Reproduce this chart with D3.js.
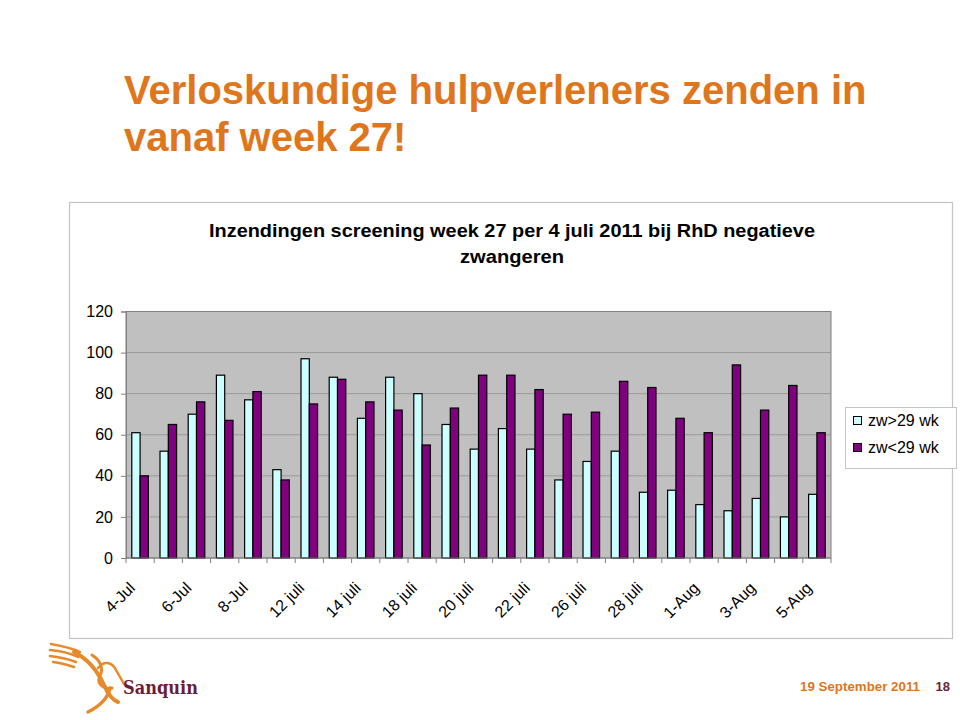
<!DOCTYPE html>
<html>
<head>
<meta charset="utf-8">
<script src="https://cdn.jsdelivr.net/npm/d3@7"></script>
<style>
  html, body { margin: 0; padding: 0; background: #ffffff; }
  svg { display: block; }
</style>
</head>
<body>
<svg id="chart" width="960" height="720"></svg>
<script>
const slideTitle = ["Verloskundige hulpverleners zenden in", "vanaf week 27!"];
const chartTitle = ["Inzendingen screening week 27 per 4 juli 2011 bij RhD negatieve", "zwangeren"];
const categories = ["4-Jul","5-Jul","6-Jul","7-Jul","8-Jul","11 juli","12 juli","13 juli","14 juli","15 juli",
  "18 juli","19 juli","20 juli","21 juli","22 juli","25 juli","26 juli","27 juli","28 juli","29 juli",
  "1-Aug","2-Aug","3-Aug","4-Aug","5-Aug"];
const seriesNames = ["zw>29 wk", "zw<29 wk"];
const zwGt29 = [61,52,70,89,77,43,97,88,68,88,80,65,53,63,53,38,47,52,32,33,26,23,29,20,31];
const zwLt29 = [40,65,76,67,81,38,75,87,76,72,55,73,89,89,82,70,71,86,83,68,61,94,72,84,61];
const yTicks = [0,20,40,60,80,100,120];
const footerDate = "19 September 2011";
const footerPage = "18";

(function(){
const seriesValues = [zwGt29, zwLt29];
const seriesColors = ["#CCFFFF", "#800080"];

const svg = d3.select("#chart");
const orange = "#E0761C";

// slide title
svg.append("g").selectAll("text").data(slideTitle).join("text")
  .attr("x", 124).attr("y", (d,i) => 104 + i*47)
  .attr("font-family", "Liberation Sans, Arial, sans-serif")
  .attr("font-weight", "bold").attr("font-size", 40)
  .attr("fill", orange).text(d => d);

// chart frame
svg.append("rect").attr("x", 69.5).attr("y", 202.5).attr("width", 883).attr("height", 436)
  .attr("fill", "#fff").attr("stroke", "#c4c4c4").attr("stroke-width", 1.2);

// chart title
svg.append("g").selectAll("text").data(chartTitle).join("text")
  .attr("x", 512).attr("y", (d,i) => 237 + i*26)
  .attr("text-anchor", "middle")
  .attr("font-family", "Liberation Sans Narrow, Liberation Sans, Arial, sans-serif")
  .attr("font-weight", "bold").attr("font-size", 18)
  .attr("fill", "#000")
  .each(function(d,i){ d3.select(this).attr("textLength", i===0 ? 606 : 104).attr("lengthAdjust","spacingAndGlyphs"); })
  .text(d => d);

// plot
const pL = 126, pR = 831, pT = 311.5, pB = 558;
const x = d3.scaleBand().domain(categories).range([pL, pR]).paddingInner(0).paddingOuter(0);
const xs = d3.scaleBand().domain([0,1]).range([0, x.bandwidth()]).paddingInner(0).paddingOuter(0.7);
const y = d3.scaleLinear().domain([0,120]).range([pB, pT]);

svg.append("rect").attr("x", pL).attr("y", pT).attr("width", pR-pL).attr("height", pB-pT)
  .attr("fill", "#C0C0C0");

// gridlines
svg.append("g").selectAll("line").data(yTicks.filter(t => t>0 && t<120)).join("line")
  .attr("x1", pL).attr("x2", pR).attr("y1", d => y(d)).attr("y2", d => y(d))
  .attr("stroke", "#9a9a9a").attr("stroke-width", 1);

svg.append("rect").attr("x", pL).attr("y", pT).attr("width", pR-pL).attr("height", pB-pT)
  .attr("fill", "none").attr("stroke", "#808080").attr("stroke-width", 1);

// bars
const groups = svg.append("g").selectAll("g").data(categories).join("g")
  .attr("transform", d => `translate(${x(d)},0)`);
groups.selectAll("rect").data((d,i) => seriesValues.map((s,k) => ({k, v: s[i]}))).join("rect")
  .attr("x", d => xs(d.k)).attr("width", xs.bandwidth())
  .attr("y", d => y(d.v)).attr("height", d => y(0) - y(d.v))
  .attr("fill", d => seriesColors[d.k]).attr("stroke", "#000").attr("stroke-width", 1.2);

// y axis
const yAxis = d3.axisLeft(y).tickValues(yTicks).tickSize(5).tickPadding(8).tickFormat(d3.format("d"));
const ya = svg.append("g").attr("transform", `translate(${pL},0)`).call(yAxis);
ya.select(".domain").attr("stroke", "#808080");
ya.selectAll(".tick line").attr("stroke", "#808080");
ya.selectAll(".tick text").attr("font-family", "Liberation Sans, Arial, sans-serif")
  .attr("font-size", 16).attr("fill", "#000");

// x axis ticks at category boundaries
const boundaries = categories.map(c => x(c)).concat([pR]);
svg.append("g").selectAll("line").data(boundaries).join("line")
  .attr("x1", d => d).attr("x2", d => d).attr("y1", pB).attr("y2", pB + 5)
  .attr("stroke", "#808080");
svg.append("line").attr("x1", pL).attr("x2", pR).attr("y1", pB).attr("y2", pB).attr("stroke", "#808080");

// x labels
svg.append("g").selectAll("text").data(categories.filter((c,i) => i % 2 === 0)).join("text")
  .attr("transform", d => `translate(${x(d) + x.bandwidth()/2 - 4},${pB + 31}) rotate(-45)`)
  .attr("text-anchor", "end")
  .attr("font-family", "Liberation Sans, Arial, sans-serif")
  .attr("font-size", 16).attr("fill", "#000")
  .text(d => d);

// legend
const lg = svg.append("g");
lg.append("rect").attr("x", 845.5).attr("y", 407.5).attr("width", 111).attr("height", 61)
  .attr("fill", "#fff").attr("stroke", "#c4c4c4");
lg.selectAll("g").data(seriesNames).join("g")
  .attr("transform", (d,i) => `translate(853,${416 + i*27})`)
  .each(function(d,i){
    const g = d3.select(this);
    g.append("rect").attr("x", 0.5).attr("y", 0.5).attr("width", 8).attr("height", 8)
      .attr("fill", seriesColors[i]).attr("stroke", "#000");
    g.append("text").attr("x", 15).attr("y", 10).attr("font-family", "Liberation Sans, Arial, sans-serif")
      .attr("font-size", 16).attr("fill", "#000").text(d);
  });

// footer
svg.append("text").attr("x", 920).attr("y", 691).attr("text-anchor", "end")
  .attr("font-family", "Liberation Sans Narrow, Liberation Sans, Arial, sans-serif")
  .attr("font-weight", "bold").attr("font-size", 13).attr("fill", orange)
  .attr("textLength", 120).attr("lengthAdjust", "spacingAndGlyphs").text(footerDate);
svg.append("text").attr("x", 950).attr("y", 691).attr("text-anchor", "end")
  .attr("font-family", "Liberation Sans Narrow, Liberation Sans, Arial, sans-serif")
  .attr("font-weight", "bold").attr("font-size", 13).attr("fill", "#6B1E3C").text(footerPage);

// logo (approximate)
const logo = svg.append("g").attr("fill", "none").attr("stroke", "#E8892A").attr("stroke-linecap", "round");
const featherPaths = [
  "M51,644 C62,646 72,648 80,652",
  "M50,650 C60,651 70,653 78,657",
  "M50,656 C60,657 68,659 76,662",
  "M53,662 C62,663 68,665 74,667"
];
logo.selectAll("path.f").data(featherPaths).join("path").attr("class","f").attr("d", d => d).attr("stroke-width", 2.5);
logo.append("path").attr("d", "M74,652 C90,660 98,672 104,685 C108,694 112,700 118,702").attr("stroke-width", 4);
logo.append("path").attr("d", "M92,655 C100,660 104,668 100,676 C96,684 104,690 112,688").attr("stroke-width", 3);
logo.append("path").attr("d", "M98,668 C104,660 112,662 116,670 L124,684").attr("stroke-width", 2.5);
logo.append("path").attr("d", "M110,688 C108,698 100,706 88,712").attr("stroke-width", 3.5);
svg.append("text").attr("x", 123).attr("y", 694)
  .attr("font-family", "DejaVu Serif, serif").attr("font-weight", "bold").attr("font-size", 19)
  .attr("fill", "#6B1E3C").attr("textLength", 75).attr("lengthAdjust","spacingAndGlyphs").text("Sanquin");
})();
</script>
</body>
</html>
